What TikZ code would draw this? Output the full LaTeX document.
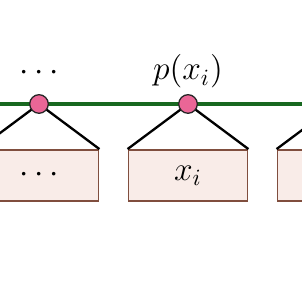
\documentclass[tikz,border=0pt]{standalone}
\definecolor{busgreen}{RGB}{24,104,32}
\definecolor{dotpink}{RGB}{234,102,150}
\definecolor{boxpink}{RGB}{249,236,232}
\definecolor{boxbrown}{RGB}{128,78,62}

\begin{document}
\begin{tikzpicture}[
  x=0.43pt, y=-0.43pt, font=\Large,
  blk/.style={rectangle, draw=boxbrown, fill=boxpink, line width=0.8pt,
              minimum width=51.2pt, minimum height=21.9pt, inner sep=0pt},
  dot/.style={circle, draw=black!85, fill=dotpink, line width=0.55pt,
              minimum size=8pt, inner sep=0pt},
  leg/.style={draw=black, line width=1pt},
  bus/.style={draw=busgreen, line width=1.8pt}
]
\useasboundingbox (0,0) rectangle (302,302);
\clip (0,0) rectangle (302,302);

% boxes under the bus
\node[blk] (b1) at (39,175.5)  {$\cdots$};
\node[blk] (b2) at (188,175.5) {$x_i$};
\node[blk] (b3) at (337,175.5) {};

\coordinate (c1) at (39,104);
\coordinate (c2) at (188,104);
\coordinate (c3) at (337,104);
\coordinate (w) at (0,104);
\coordinate (e) at (302,104);

\draw[leg] (b1.north west) -- (c1) -- (b1.north east);
\draw[leg] (b2.north west) -- (c2) -- (b2.north east);
\draw[leg] (b3.north west) -- (c3) -- (b3.north east);
\draw[bus] (w) -- (e);

\node[dot] (p1) at (c1) {};
\node[dot] (p2) at (c2) {};

\node (l1) at (39,73) {$\cdots$};
\node[anchor=base] (l2) at (188,80) {$p(x_i)$};
\end{tikzpicture}
\end{document}
